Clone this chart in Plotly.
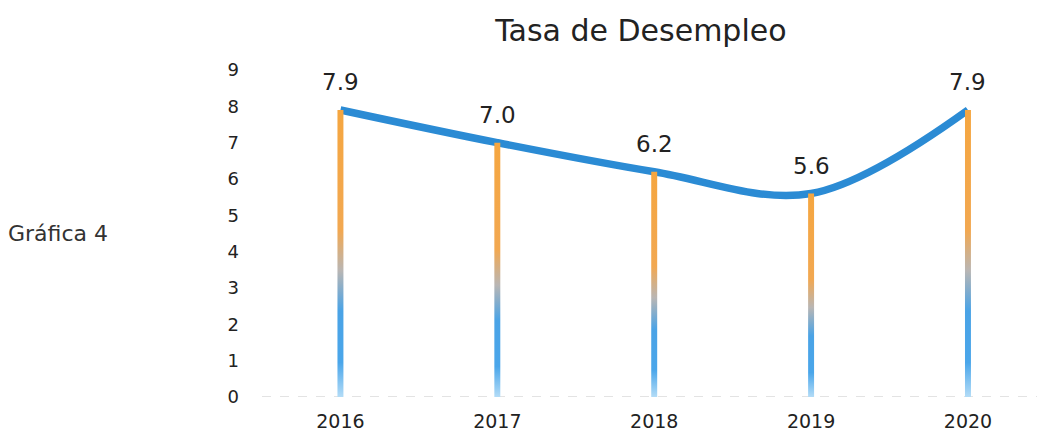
import plotly.graph_objects as go

years = [2016, 2017, 2018, 2019, 2020]
values = [7.9, 7.0, 6.2, 5.6, 7.9]
labels = ["7.9", "7.0", "6.2", "5.6", "7.9"]
y_ticks = [0, 1, 2, 3, 4, 5, 6, 7, 8, 9]

TITLE = "Tasa de Desempleo"
SIDE_LABEL = "Gráfica 4"

FONT = "DejaVu Sans"
TEXT_COLOR = "#222222"
LINE_COLOR = "#2b8bd4"
BAR_HALF = 0.019
BAR_SCALE = [
    [0.0, "#b3dcf7"],
    [0.12, "#4aa6ea"],
    [0.30, "#4aa3e6"],
    [0.44, "#b9b6b4"],
    [0.58, "#f2a851"],
    [1.0, "#f5a640"],
]

fig = go.Figure()

# smoothed line
fig.add_trace(go.Scatter(
    x=years, y=values, mode="lines",
    line=dict(color=LINE_COLOR, width=7.5, shape="spline", smoothing=1.0),
    hoverinfo="skip", showlegend=False,
))

# thin gradient bars
for yr, v in zip(years, values):
    fig.add_trace(go.Scatter(
        x=[yr - BAR_HALF, yr + BAR_HALF, yr + BAR_HALF, yr - BAR_HALF, yr - BAR_HALF],
        y=[0, 0, v, v, 0],
        mode="lines", fill="toself",
        line=dict(width=0, color="rgba(0,0,0,0)"),
        fillgradient=dict(type="vertical", colorscale=BAR_SCALE, start=0, stop=v),
        hoverinfo="skip", showlegend=False,
    ))

# value labels
for yr, v, t in zip(years, values, labels):
    fig.add_annotation(
        x=yr, y=v, text=t, showarrow=False, yshift=28,
        font=dict(family=FONT, size=23, color=TEXT_COLOR),
    )

fig.add_annotation(
    xref="paper", yref="paper", x=-0.33, y=0.5, xanchor="left",
    text=SIDE_LABEL, showarrow=False,
    font=dict(family=FONT, size=22, color="#333333"),
)

# dashed baseline
fig.add_shape(
    type="line", xref="paper", yref="y", x0=0, x1=1, y0=0, y1=0,
    line=dict(color="#c8c8c8", width=1.2, dash="dash"), layer="below",
)

fig.update_layout(
    width=1037, height=434,
    margin=dict(l=262, r=0, t=70, b=37),
    paper_bgcolor="white", plot_bgcolor="white",
    title=dict(text=TITLE, x=0.618, xanchor="center", y=0.93, yanchor="middle",
               font=dict(family=FONT, size=30, color=TEXT_COLOR)),
    font=dict(family=FONT, color=TEXT_COLOR),
)
fig.update_xaxes(
    range=[2015.5, 2020.44], tickvals=years, ticktext=[str(y) for y in years],
    showgrid=False, zeroline=False, showline=False, ticks="", automargin=False,
    tickfont=dict(family=FONT, size=19, color=TEXT_COLOR), ticklabelstandoff=11,
)
fig.update_yaxes(
    range=[0, 9], tickvals=y_ticks, showgrid=False, zeroline=False, showline=False,
    ticks="", automargin=False,
    tickfont=dict(family=FONT, size=18, color=TEXT_COLOR), ticklabelstandoff=22,
)

fig.write_html("out.html", config={"displayModeBar": False},
               post_script="document.body.style.margin='0px';")
